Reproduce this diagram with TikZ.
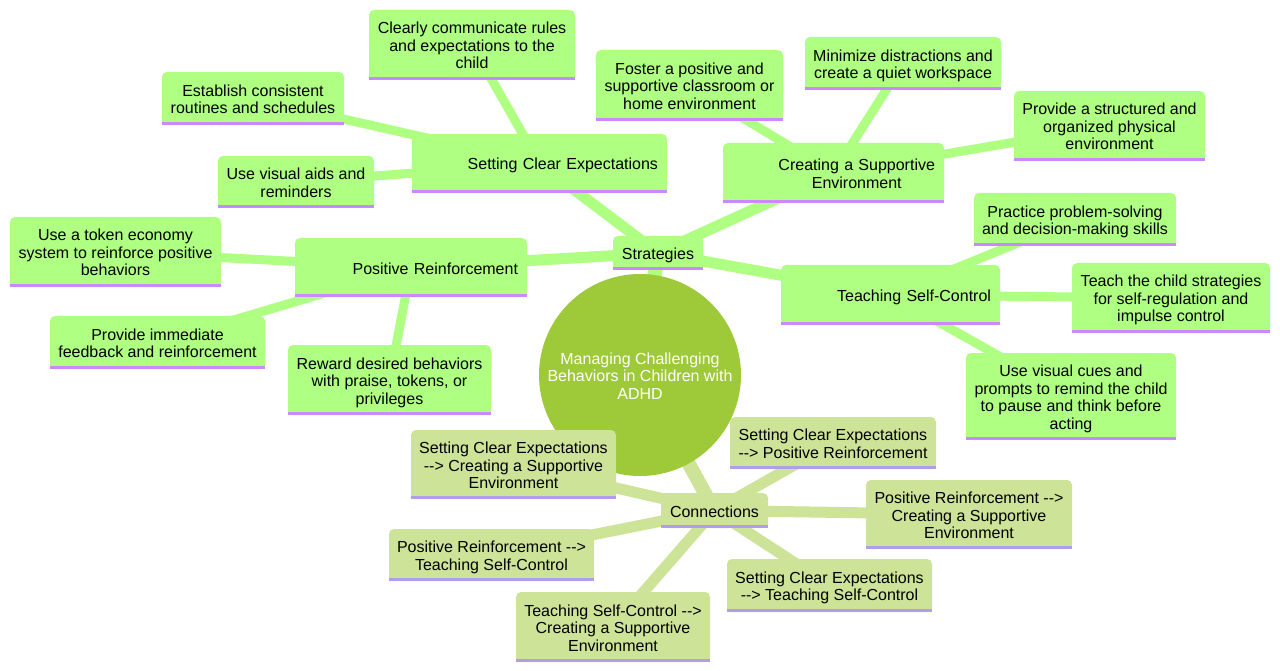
\documentclass[tikz,border=0pt]{standalone}
\usepackage{fontspec}
\setmainfont{Liberation Sans}
\usetikzlibrary{backgrounds}

\definecolor{rootgreen}{RGB}{158,201,56}
\definecolor{stratfill}{RGB}{174,255,130}
\definecolor{stratline}{RGB}{204,136,255}
\definecolor{connfill}{RGB}{205,228,152}
\definecolor{connline}{RGB}{178,158,232}

% text block, lowered a little inside its box
\newcommand{\mmtxt}[1]{\raisebox{-3pt}[\height][\depth]{\begin{tabular}{@{}c@{}}#1\end{tabular}}}
\newcommand{\mmarrow}{-\kern0pt-\kern0pt>}

\tikzset{
    mmtext/.style={font=\fontsize{16}{17.5}\selectfont, inner sep=2pt},
    sz/.style 2 args={minimum width=#1pt, minimum height=#2pt},
    stratbox/.style={mmtext, fill=stratfill, rounded corners=5pt},
    connbox/.style={mmtext, fill=connfill, rounded corners=5pt},
    pushright/.style={text width=#1pt, inner xsep=9pt, align=right},
    branch/.style={line width=14pt},
    twig/.style={line width=11pt},
    leafline/.style={line width=9pt}
}

\begin{document}
\begin{tikzpicture}[x=1pt, y=-1pt]
        \useasboundingbox (0,0) rectangle (1280,671);

        % Central topic
        \node[mmtext, circle, fill=rootgreen, text=white, minimum size=202pt] (root) at (640,375)
            {\mmtxt{Managing Challenging\\Behaviors in Children with\\ADHD}};

        % Strategies branch
        \node[stratbox, sz={90}{34}] (strat) at (658,253) {\mmtxt{Strategies}};
        \node[stratbox, sz={255}{59}, pushright=237] (sce) at (539.5,163.5) {\mmtxt{Setting Clear Expectations}};
        \node[stratbox, sz={206}{70}] (comm) at (472,45) {\mmtxt{Clearly communicate rules\\and expectations to the\\child}};
        \node[stratbox, sz={182}{53}] (rout) at (253,98.5) {\mmtxt{Establish consistent\\routines and schedules}};
        \node[stratbox, sz={156}{52}] (vis) at (296,182) {\mmtxt{Use visual aids and\\reminders}};
        \node[stratbox, sz={232}{59}, pushright=214] (pr) at (411,267.5) {\mmtxt{Positive Reinforcement}};
        \node[stratbox, sz={211}{70}] (token) at (115.5,252) {\mmtxt{Use a token economy\\system to reinforce positive\\behaviors}};
        \node[stratbox, sz={215}{53}] (feed) at (157.5,342.5) {\mmtxt{Provide immediate\\feedback and reinforcement}};
        \node[stratbox, sz={203}{70}] (reward) at (389.5,380) {\mmtxt{Reward desired behaviors\\with praise, tokens, or\\privileges}};
        \node[stratbox, sz={221}{60}, pushright=203] (cse) at (833.5,173) {\mmtxt{Creating a Supportive\\Environment}};
        \node[stratbox, sz={187}{71}] (foster) at (689.5,85.5) {\mmtxt{Foster a positive and\\supportive classroom or\\home environment}};
        \node[stratbox, sz={196}{53}] (mini) at (903,63.5) {\mmtxt{Minimize distractions and\\create a quiet workspace}};
        \node[stratbox, sz={191}{70}] (struct) at (1109.5,126) {\mmtxt{Provide a structured and\\organized physical\\environment}};
        \node[stratbox, sz={219}{60}, pushright=201] (tsc) at (890.5,295) {\mmtxt{Teaching Self-Control}};
        \node[stratbox, sz={202}{53}] (prob) at (1075,219.5) {\mmtxt{Practice problem-solving\\and decision-making skills}};
        \node[stratbox, sz={198}{70}] (teach) at (1171,298) {\mmtxt{Teach the child strategies\\for self-regulation and\\impulse control}};
        \node[stratbox, sz={210}{87}] (cues) at (1071,396.5) {\mmtxt{Use visual cues and\\prompts to remind the child\\to pause and think before\\acting}};

        % Connections branch
        \node[connbox, sz={107}{35}] (conn) at (714.5,510.5) {\mmtxt{Connections}};
        \node[connbox, sz={205}{69}] (c1) at (513.5,464.5) {\mmtxt{Setting Clear Expectations\\\mmarrow{} Creating a Supportive\\Environment}};
        \node[connbox, sz={206}{52}] (c2) at (833,443) {\mmtxt{Setting Clear Expectations\\\mmarrow{} Positive Reinforcement}};
        \node[connbox, sz={206}{69}] (c3) at (969,514.5) {\mmtxt{Positive Reinforcement \mmarrow\\Creating a Supportive\\Environment}};
        \node[connbox, sz={205}{52}] (c4) at (491.5,555) {\mmtxt{Positive Reinforcement \mmarrow\\Teaching Self-Control}};
        \node[connbox, sz={194}{70}] (c5) at (613,627) {\mmtxt{Teaching Self-Control \mmarrow\\Creating a Supportive\\Environment}};
        \node[connbox, sz={205}{53}] (c6) at (829.5,585.5) {\mmtxt{Setting Clear Expectations\\\mmarrow{} Teaching Self-Control}};

        % Square bottoms and underlines
        \foreach \n in {strat,sce,comm,rout,vis,pr,token,feed,reward,cse,foster,mini,struct,tsc,prob,teach,cues} {
            \fill[stratfill] (\n.south west) rectangle ([yshift=6pt]\n.south east);
            \draw[stratline, line width=3pt] ([yshift=1.5pt]\n.south west) -- ([yshift=1.5pt]\n.south east);
        }
        \foreach \n in {conn,c1,c2,c3,c4,c5,c6} {
            \fill[connfill] (\n.south west) rectangle ([yshift=6pt]\n.south east);
            \draw[connline, line width=3pt] ([yshift=1.5pt]\n.south west) -- ([yshift=1.5pt]\n.south east);
        }

        % Edges behind everything
        \begin{scope}[on background layer]
            \fill[white] (0,0) rectangle (1280,671);
            \draw[branch, stratfill] (root.center) -- (strat.center);
            \draw[branch, connfill] (root.center) -- (conn.center);
            \foreach \b in {sce,pr,cse,tsc}
                \draw[twig, stratfill] (strat.center) -- (\b.center);
            \foreach \a/\b in {sce/comm,sce/rout,sce/vis,pr/token,pr/feed,pr/reward,cse/foster,cse/mini,cse/struct,tsc/prob,tsc/teach,tsc/cues}
                \draw[leafline, stratfill] (\a.center) -- (\b.center);
            \foreach \b in {c1,c2,c3,c4,c5,c6}
                \draw[twig, connfill] (conn.center) -- (\b.center);
        \end{scope}
    \end{tikzpicture}
\end{document}
